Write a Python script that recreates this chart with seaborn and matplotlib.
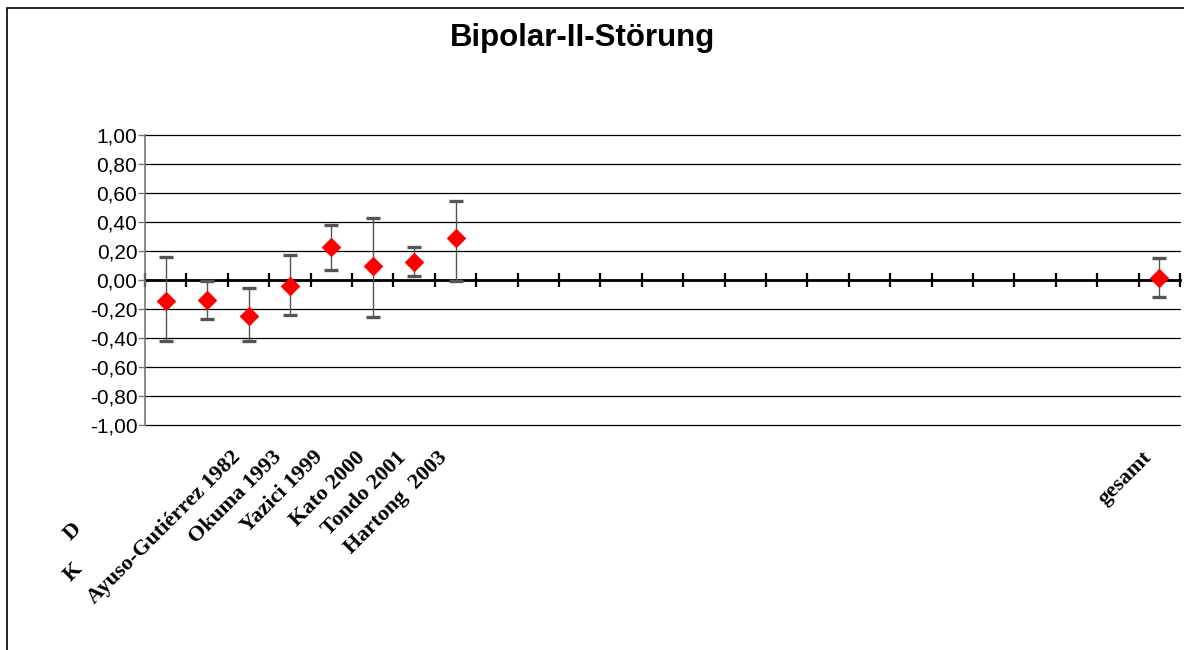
import numpy as np
import pandas as pd
import matplotlib
matplotlib.use("Agg")
import matplotlib.pyplot as plt
import matplotlib.transforms as mtransforms
from matplotlib.patches import Rectangle
from matplotlib.ticker import FuncFormatter
import seaborn as sns

# ==================== Daten ====================
studies = ["", "", "Ayuso-Gutiérrez 1982", "Okuma 1993", "Yazici 1999", "Kato 2000",
           "Tondo 2001", "Hartong  2003"] + [""] * 16 + ["gesamt"]
effect = [-0.145, -0.14, -0.245, -0.04, 0.228, 0.097, 0.126, 0.292] + [np.nan] * 16 + [0.016]
ci_low = [-0.42, -0.27, -0.42, -0.243, 0.067, -0.257, 0.025, -0.005] + [np.nan] * 16 + [-0.117]
ci_high = [0.159, -0.007, -0.053, 0.17, 0.377, 0.43, 0.228, 0.545] + [np.nan] * 16 + [0.154]
y_ticks = [-1.0, -0.8, -0.6, -0.4, -0.2, 0.0, 0.2, 0.4, 0.6, 0.8, 1.0]
title = "Bipolar-II-Störung"
# abgeschnittene Beschriftung links (nur Anfangsbuchstaben sichtbar)
cut_label = ["D", "K"]

df = pd.DataFrame({"pos": np.arange(len(studies)), "study": studies,
                   "effect": effect, "low": ci_low, "high": ci_high})
pts = df.dropna(subset=["effect"])

# ==================== Plot ====================
sns.set_style("white")
plt.rcParams["font.family"] = ["Liberation Sans", "DejaVu Sans"]
plt.rcParams["text.color"] = "black"

fig = plt.figure(figsize=(11.84, 6.5), dpi=100)
ax = fig.add_axes([145 / 1184, 1 - 425 / 650, 1035 / 1184, 290 / 650])

# Konfidenzintervalle
eb = ax.errorbar(pts["pos"], pts["effect"],
                 yerr=[pts["effect"] - pts["low"], pts["high"] - pts["effect"]],
                 fmt="none", ecolor="#555555", elinewidth=1.0, capsize=4.8, capthick=2.4, zorder=3)
for cap in eb[1]:
    cap.set_color("black")

sns.scatterplot(data=pts, x="pos", y="effect", marker="D", s=100, color="#ff0000",
                linewidth=0, zorder=4, ax=ax)

ax.set_xlim(-0.5, len(studies) - 0.5)
ax.set_ylim(-1, 1)
ax.set_xlabel("")
ax.set_ylabel("")

# y-Achse
ax.set_yticks(y_ticks)
ax.yaxis.set_major_formatter(FuncFormatter(lambda v, p: f"{v + 0.0:.2f}".replace("-0.00", "0.00").replace(".", ",")))
ax.tick_params(axis="y", which="major", left=True, length=5, width=1, color="#777777",
               labelsize=15, pad=0.5, labelcolor="black")
ax.grid(axis="y", color="black", linewidth=0.9)
ax.grid(axis="x", visible=False)
for gl in ax.get_ygridlines():
    gl.set_clip_on(False)
ax.set_axisbelow(True)
for s in ["top", "right", "bottom"]:
    ax.spines[s].set_visible(False)
ax.spines["left"].set_color("#777777")
ax.spines["left"].set_linewidth(1.2)

# x-Beschriftung
ax.set_xticks(df["pos"])
ax.set_xticklabels(df["study"])
ax.tick_params(axis="x", length=0, pad=16, labelcolor="black")
offset = mtransforms.ScaledTranslation(-0.18, 0, fig.dpi_scale_trans)
for lbl in ax.get_xticklabels():
    lbl.set_rotation(45)
    lbl.set_ha("right")
    lbl.set_va("top")
    lbl.set_rotation_mode("anchor")
    lbl.set_fontfamily(["Liberation Serif", "DejaVu Serif"])
    lbl.set_fontweight("bold")
    lbl.set_fontsize(16)
    lbl.set_transform(lbl.get_transform() + offset)

for frag, dy in zip(cut_label, [-107, -147]):
    ax.annotate(frag, xy=(0, 0), xycoords=("data", "axes fraction"),
                xytext=(-93, dy), textcoords="offset pixels", rotation=45,
                ha="center", va="center", fontsize=16, fontweight="bold",
                family=["Liberation Serif", "DejaVu Serif"], annotation_clip=False)

# Nulllinie mit Kategorie-Teilstrichen
zero = ax.secondary_xaxis(0.5)
zero.set_xticks(np.arange(-0.5, len(studies), 1.0))
zero.tick_params(axis="x", direction="inout", length=10, width=1.6, labeltop=False,
                 labelbottom=False, color="black")
for s in zero.spines.values():
    s.set_linewidth(2.0)
    s.set_color("black")

# Titel und Rahmen
fig.text(0.492, 0.942, title, ha="center", va="center", fontsize=22.5, fontweight="bold")
fig.add_artist(Rectangle((7 / 1184, -0.05), 1.1, 1 - 8 / 650 + 0.05,
                         transform=fig.transFigure, fill=False, lw=1.2, ec="black"))

fig.savefig("out.png", dpi=100)
